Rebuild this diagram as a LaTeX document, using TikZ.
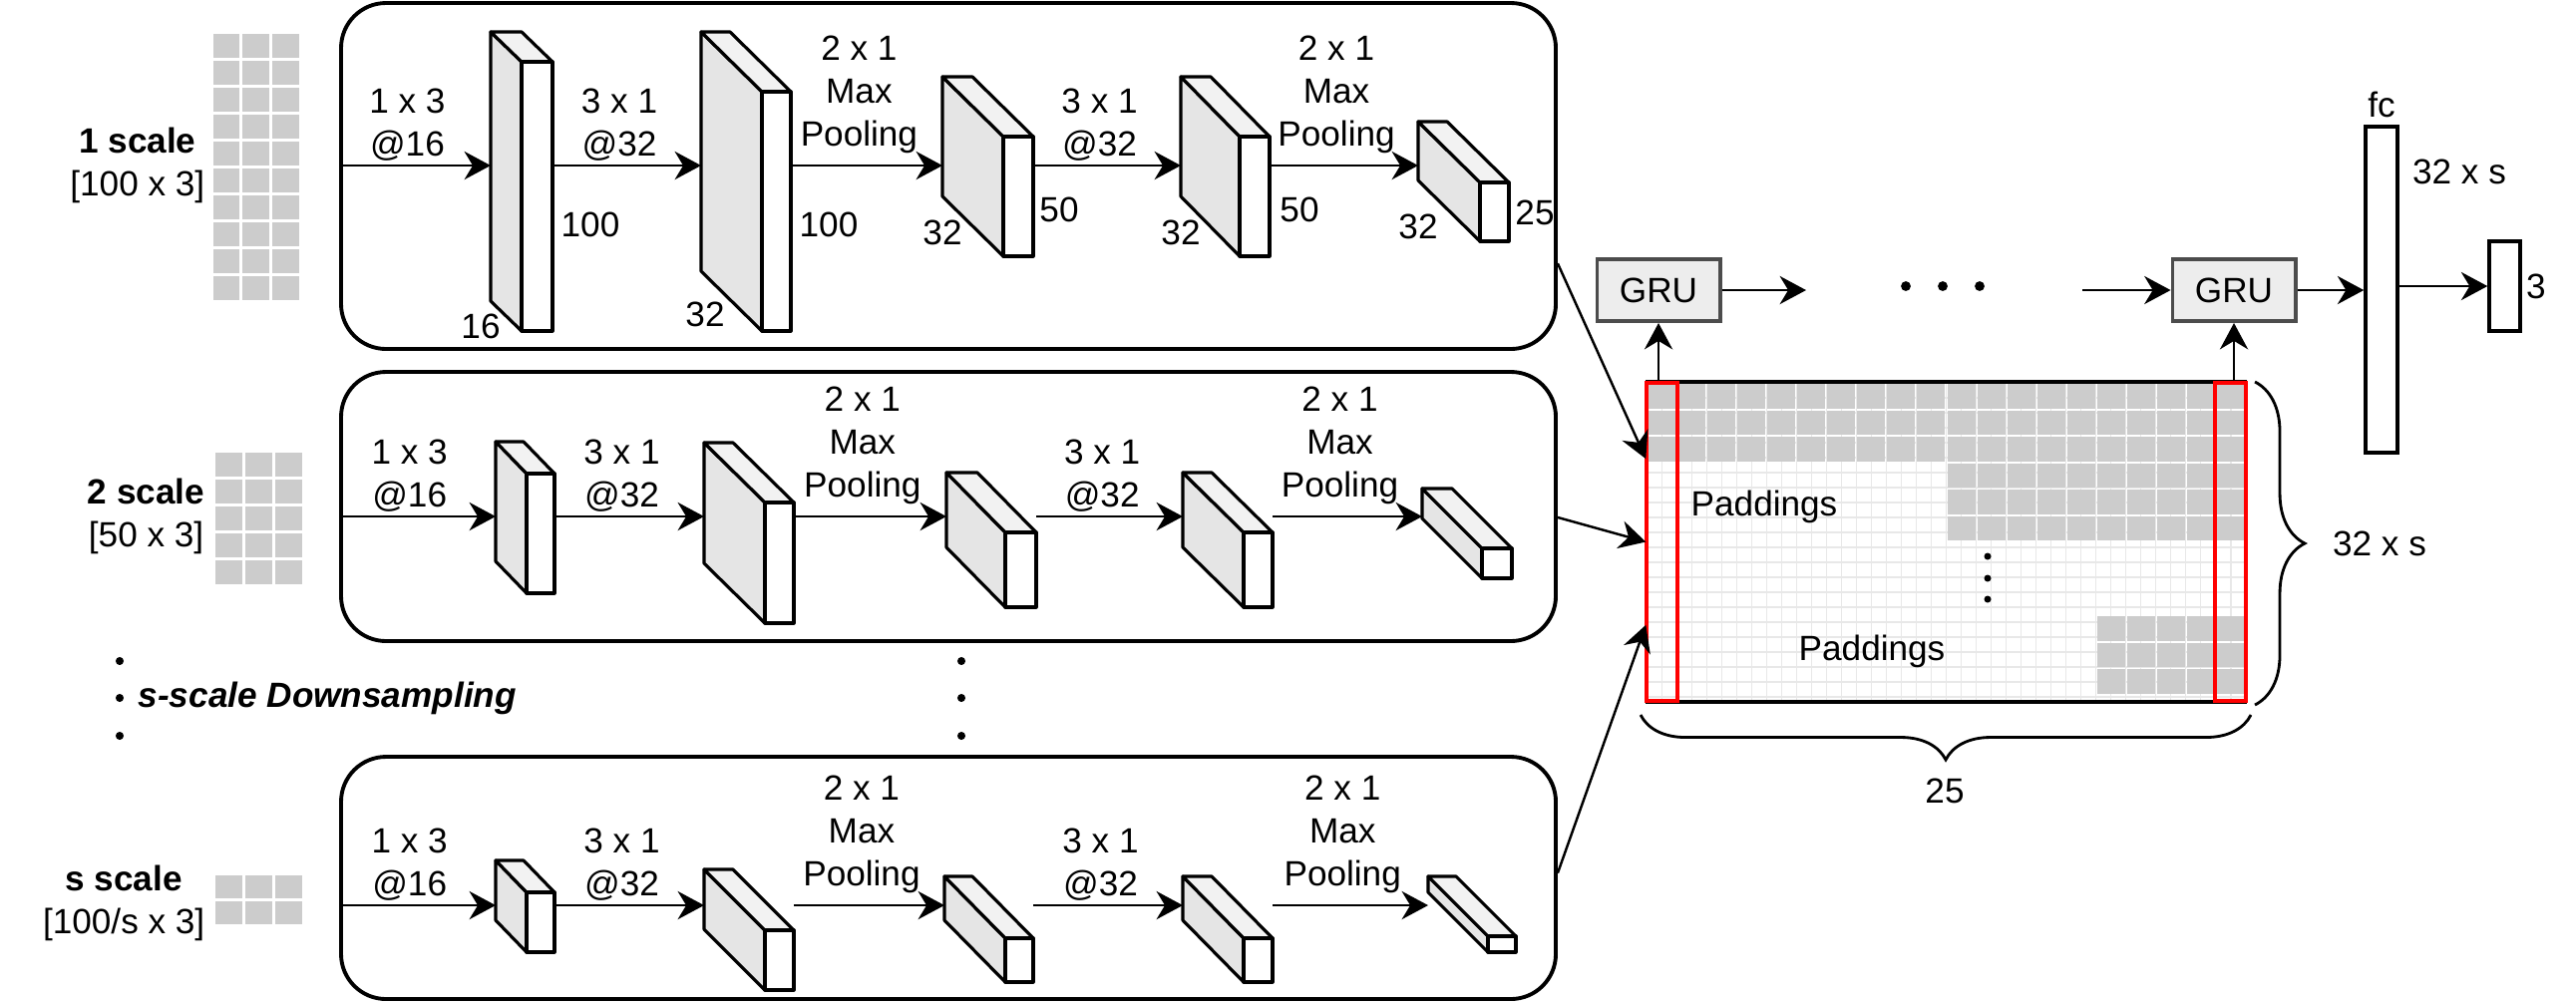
\documentclass[tikz,border=0pt]{standalone}
\usepackage{fontspec}
\setmainfont{Liberation Sans}
\usepackage{tikz}
\usetikzlibrary{arrows.meta,positioning,fit,calc,decorations.pathreplacing}

\begin{document}
\begin{tikzpicture}[
  x=0.01cm, y=-0.01cm,
  font=\fontsize{10}{12.2}\selectfont,
  stage/.style={draw, line width=1.1pt, rounded corners=0.45cm, inner sep=0pt},
  cell/.style={fill=black!20},
  face/.style={draw, line width=0.9pt, line join=round},
  arrow/.style={-{Stealth[length=7.5pt, width=8pt, inset=2.4pt]}, line width=0.8pt},
  lbl/.style={align=center, inner sep=1pt},
  gru/.style={draw=black!70, fill=black!7, line width=1.1pt, minimum width=1.23cm, minimum height=0.62cm, inner sep=0pt},
  bar/.style={draw, line width=1pt, inner sep=0pt},
  redcol/.style={draw=red, line width=1pt, inner sep=0pt},
  fine/.style={draw=black!9, line width=0.3pt},
  brace/.style={decorate, decoration={brace, amplitude=#1}, line width=0.8pt},
  pics/cuboid/.style n args={4}{code={
    % #1 width, #2 height, #3 depth x, #4 depth y
    \draw[face, fill=black!10] (0,0) -- (-#3,-#4) -- (-#3,#2-#4) -- (0,#2) -- cycle;
    \draw[face, fill=black!5] (0,0) -- (-#3,-#4) -- (#1-#3,-#4) -- (#1,0) -- cycle;
    \draw[face, fill=white] (0,0) rectangle (#1,#2);
    \coordinate (-in) at (-#3,-#4);
    \coordinate (-out) at (#1,0);
  }}
]
\useasboundingbox (0,0) rectangle (2583,1005);

% Inputs
\foreach \r in {0,...,9} \foreach \c in {0,1,2}
  \fill[cell] ({212+\c*29.7+1.5},{32+\r*27+1.5}) rectangle ++(26.7,24);
\foreach \r in {0,...,4} \foreach \c in {0,1,2}
  \fill[cell] ({214+\c*30+1.5},{452+\r*27+1.5}) rectangle ++(27,24);
\foreach \r in {0,1} \foreach \c in {0,1,2}
  \fill[cell] ({214+\c*30+1.5},{876+\r*26+1.5}) rectangle ++(27,23);

\node[anchor=east, align=center, inner sep=0pt] (scale1) at (206,166) {\textbf{1 scale}\\{[}100 x 3{]}};
\node[anchor=east, align=center, inner sep=0pt] (scale2) at (206,518) {\textbf{2 scale}\\{[}50 x 3{]}};
\node[anchor=east, align=center, inner sep=0pt] (scales) at (206,906) {\textbf{s scale}\\{[}100/s x 3{]}};
\node[anchor=west, inner sep=0pt, font=\fontsize{10}{12.2}\selectfont\bfseries\itshape] (sdown) at (138,700) {s-scale Downsampling};
\foreach \y in {663,700,738} {
  \fill (120,\y) circle[radius=1.15pt];
  \fill (964,\y) circle[radius=1.15pt];
}

% Stages
\node[stage, fit={(342,3)(1560,350)}] (stage1) {};
\node[stage, fit={(342,373)(1560,643)}] (stage2) {};
\node[stage, fit={(342,759)(1560,1002)}] (stage3) {};

% Stage 1
\coordinate (row1) at (0,166);
\pic (r1c1) at (523,62) {cuboid={31}{270}{31}{30}};
\pic (r1c2) at (764,92) {cuboid={29}{240}{61}{60}};
\pic (r1c3) at (1006,137) {cuboid={30}{120}{61}{60}};
\pic (r1c4) at (1243,137) {cuboid={30}{120}{59}{60}};
\pic (r1c5) at (1484,183) {cuboid={29}{59}{62}{61}};
\draw[arrow] (stage1.west |- row1) -- node[lbl, above, pos=0.45] {1 x 3\\@16} (r1c1-in |- row1);
\draw[arrow] (r1c1-out |- row1) -- node[lbl, above, pos=0.45] {3 x 1\\@32} (r1c2-in |- row1);
\draw[arrow] (r1c2-out |- row1) -- node[lbl, above=2pt, pos=0.45] {2 x 1\\Max\\Pooling} (r1c3-in |- row1);
\draw[arrow] (r1c3-out |- row1) -- node[lbl, above, pos=0.45] {3 x 1\\@32} (r1c4-in |- row1);
\draw[arrow] (r1c4-out |- row1) -- node[lbl, above=2pt, pos=0.45] {2 x 1\\Max\\Pooling} (r1c5-in |- row1);
\node (d11) at (482,327) {16};
\node (d12) at (592,225) {100};
\node (d21) at (707,315) {32};
\node (d22) at (831,225) {100};
\node (d31) at (945,233) {32};
\node (d32) at (1062,210) {50};
\node (d41) at (1184,233) {32};
\node (d42) at (1303,210) {50};
\node (d51) at (1422,227) {32};
\node (d52) at (1539,213) {25};

% Stage 2
\coordinate (row2) at (0,518);
\pic (r2c1) at (528,475) {cuboid={28}{120}{31}{32}};
\pic (r2c2) at (767,504) {cuboid={29}{121}{61}{60}};
\pic (r2c3) at (1008,534) {cuboid={31}{75}{59}{60}};
\pic (r2c4) at (1247,534) {cuboid={29}{75}{61}{60}};
\pic (r2c5) at (1486,550) {cuboid={30}{30}{60}{60}};
\draw[arrow] (stage2.west |- row2) -- node[lbl, above, pos=0.45] {1 x 3\\@16} (r2c1-in |- row2);
\draw[arrow] (r2c1-out |- row2) -- node[lbl, above, pos=0.45] {3 x 1\\@32} (r2c2-in |- row2);
\draw[arrow] (r2c2-out |- row2) -- node[lbl, above=2pt, pos=0.45] {2 x 1\\Max\\Pooling} (r2c3-in |- row2);
\draw[arrow] (r2c3-out |- row2) -- node[lbl, above, pos=0.45] {3 x 1\\@32} (r2c4-in |- row2);
\draw[arrow] (r2c4-out |- row2) -- node[lbl, above=2pt, pos=0.45] {2 x 1\\Max\\Pooling} (r2c5-in |- row2);

% Stage s
\coordinate (row3) at (0,908);
\pic (r3c1) at (528,895) {cuboid={28}{60}{31}{32}};
\pic (r3c2) at (767,933) {cuboid={29}{60}{61}{61}};
\pic (r3c3) at (1008,941) {cuboid={28}{44}{61}{62}};
\pic (r3c4) at (1247,941) {cuboid={29}{44}{61}{62}};
\pic (r3c5) at (1492,939) {cuboid={28}{16}{60}{60}};
\draw[arrow] (stage3.west |- row3) -- node[lbl, above, pos=0.45] {1 x 3\\@16} (r3c1-in |- row3);
\draw[arrow] (r3c1-out |- row3) -- node[lbl, above, pos=0.45] {3 x 1\\@32} (r3c2-in |- row3);
\draw[arrow] (r3c2-out |- row3) -- node[lbl, above=2pt, pos=0.45] {2 x 1\\Max\\Pooling} (r3c3-in |- row3);
\draw[arrow] (r3c3-out |- row3) -- node[lbl, above, pos=0.45] {3 x 1\\@32} (r3c4-in |- row3);
\draw[arrow] (r3c4-out |- row3) -- node[lbl, above=2pt, pos=0.45] {2 x 1\\Max\\Pooling} (r3c5-in |- row3);

% Feature matrix
\node[fit={(1651,384)(2252,703)}, inner sep=0pt] (mat) {};
\foreach \i in {1,...,39} \draw[fine] ({1651+\i*15.025},384) -- ++(0,319);
\foreach \j in {1,...,21} \draw[fine] (1651,{384+\j*15}) -- ++(601,0);
\foreach \r in {0,1,2} \foreach \c in {0,...,19}
  \fill[cell] ({1651+\c*30.05+1},{384+\r*26.5+1}) rectangle ++(28,24.5);
\foreach \r in {3,4,5} \foreach \c in {10,...,19}
  \fill[cell] ({1651+\c*30.05+1},{384+\r*26.5+1}) rectangle ++(28,24.5);
\foreach \r in {0,1,2} \foreach \c in {15,...,19}
  \fill[cell] ({1651+\c*30.05+1},{617+\r*26.5+1}) rectangle ++(28,24.5);
\draw[line width=1.1pt] (mat.north west) -- (mat.north east) (mat.south west) -- (mat.south east);
\node[redcol, fit={(1651,384)(1682,703)}] (col1) {};
\node[redcol, fit={(2221,384)(2252,703)}] (col2) {};
\node (pad1) at (1769,508) {Paddings};
\node (pad2) at (1877,653) {Paddings};
\foreach \y in {558,580,601} \fill (1993,\y) circle[radius=1pt];
\draw[brace=0.5cm] (2261,383) -- (2261,707);
\node (hlbl) at (2386,545) {32 x s};
\draw[brace=0.45cm] (2257,717) -- (1645,717);
\node (wlbl) at (1950,793) {25};

\draw[arrow, line width=0.7pt] ($(stage1.north east)!0.75!(stage1.south east)$) -- ($(mat.north west)!0.24!(mat.south west)$);
\draw[arrow, line width=0.7pt] ($(stage2.north east)!0.54!(stage2.south east)$) -- ($(mat.north west)!0.5!(mat.south west)$);
\draw[arrow, line width=0.7pt] ($(stage3.north east)!0.48!(stage3.south east)$) -- ($(mat.north west)!0.76!(mat.south west)$);

% GRU chain
\node[gru] (gru1) at (1663,291) {GRU};
\node[gru] (gru2) at (2240,291) {GRU};
\coordinate (dotsL) at (1811,291);
\coordinate (dotsR) at (2088,291);
\draw[arrow] (gru1.south |- col1.north) -- (gru1.south);
\draw[arrow] (gru2.south |- col2.north) -- (gru2.south);
\draw[arrow] (gru1.east) -- (dotsL);
\draw[arrow] (dotsR) -- (gru2.west);
\foreach \x in {1911,1948,1985} \fill (\x,287) circle[radius=1.4pt];

% Output
\node[bar, fit={(2372,127)(2404,454)}] (fc) {};
\node[above=2pt of fc, inner sep=0pt] (fclbl) {fc};
\node (fcsize) at (2466,172) {32 x s};
\node[bar, fit={(2496,242)(2527,332)}] (out) {};
\node[right=1pt of out, inner sep=0pt] (outlbl) {3};
\draw[arrow] (gru2.east) -- (fc.west |- gru2.east);
\draw[arrow] (fc.east |- out) -- (out.west);

\end{tikzpicture}
\end{document}
